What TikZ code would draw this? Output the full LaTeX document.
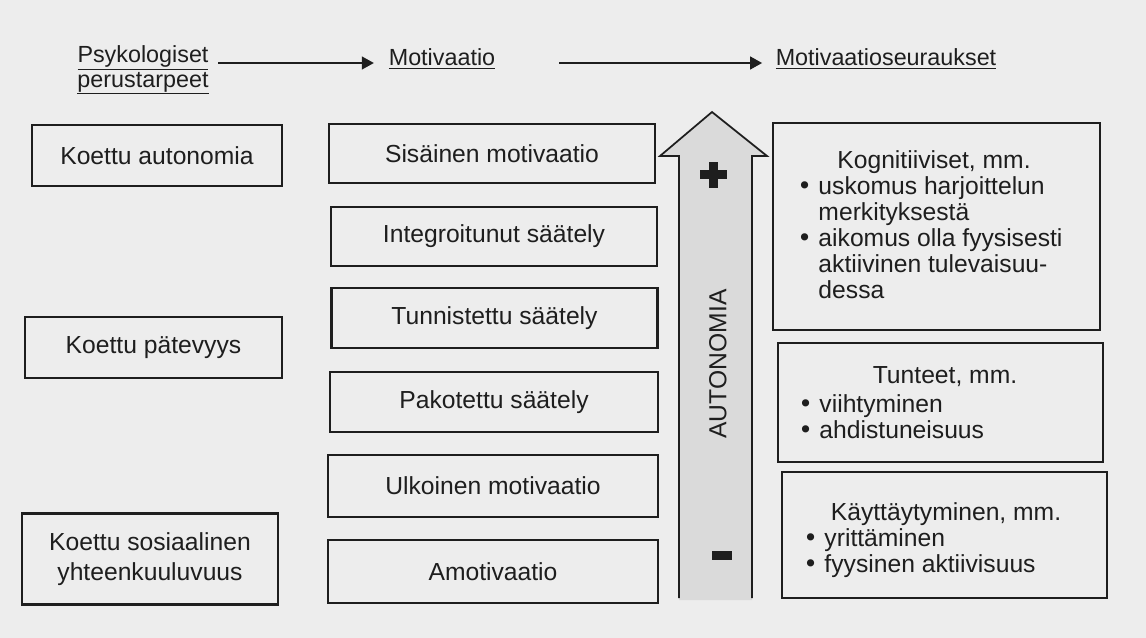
\documentclass[tikz,border=0pt]{standalone}
\usepackage{fontspec}
\setmainfont{Liberation Sans}
\newfontfamily\bulfont{DejaVu Sans}
\usetikzlibrary{arrows.meta}
\definecolor{bg}{RGB}{237,237,237}
\definecolor{ink}{RGB}{30,30,30}
\definecolor{arrowfill}{RGB}{218,218,218}
\tikzset{
  box/.style={draw=ink, line width=1.6pt, inner sep=0pt, text=ink,
    font=\fontsize{18.5}{19.5}\selectfont},
  hdr/.style={font=\fontsize{17.5}{18.5}\selectfont, text=ink, inner sep=1pt, align=center},
  flow/.style={draw=ink, line width=1.6pt, -{Triangle[length=9pt,width=9.5pt]}},
  txt/.style={font=\fontsize{18.5}{19.5}\selectfont, text=ink, inner sep=0pt},
  mark sign/.style={fill=ink}
}
\newcommand{\bul}{{\bulfont •}}
\newcommand{\blist}[1]{\begin{tabular}[t]{@{}l@{\hspace{5pt}}l@{}}#1\end{tabular}}
\begin{document}
\begin{tikzpicture}[x=0.75pt,y=-0.75pt]
\fill[bg] (0,0) rectangle (1146,638);
\useasboundingbox (0,0) rectangle (1146,638);

% headers
\node[hdr] (ps) at (143,70) {\underline{Psykologiset}\\\underline{perustarpeet}};
\node[hdr, anchor=base] (mot) at (442,66) {\underline{Motivaatio}};
\node[hdr, anchor=base] (seur) at (886,66) {\underline{Motivaatioseuraukset}};
\draw[flow, shorten <=6pt, shorten >=10pt] (ps.east |- 0,63) -- (mot.west |- 0,63);
\draw[flow, shorten <=47pt, shorten >=9pt] (mot.east |- 0,63) -- (seur.west |- 0,63);

% left column
\node[box, minimum width=187.5pt, minimum height=45.75pt] (la) at (157,155.5) {Koettu autonomia};
\node[box, minimum width=192.75pt, minimum height=45.75pt] (lb) at (153.5,347.5) {Koettu pätevyys};
\node[box, minimum width=192pt, minimum height=68.25pt, align=center] (lc) at (150,559) {Koettu sosiaalinen\\[3pt]yhteenkuuluvuus};

% middle column
\node[box, minimum width=244.5pt, minimum height=44.5pt] (m1) at (492,153.5) {Sisäinen motivaatio};
\node[box, minimum width=244.5pt, minimum height=44.5pt] (m2) at (494,236.5) {Integroitunut säätely};
\node[box, minimum width=244.5pt, minimum height=45pt] (m3) at (494.5,318) {Tunnistettu säätely};
\node[box, minimum width=246pt, minimum height=45pt] (m4) at (494,402) {Pakotettu säätely};
\node[box, minimum width=247.5pt, minimum height=46.5pt] (m5) at (493,486) {Ulkoinen motivaatio};
\node[box, minimum width=247.5pt, minimum height=47pt] (m6) at (493,571.5) {Amotivaatio};

% autonomy arrow
\fill[arrowfill] (679,600) -- (679,156) -- (660,156) -- (712,112) -- (767,156) -- (752,156) -- (752,600) -- cycle;
\draw[ink, line width=1.3pt, line join=miter] (679,598) -- (679,156) -- (660,156) -- (712,112) -- (767,156) -- (752,156) -- (752,598);
\node[txt, rotate=90] (auto) at (718,364) {AUTONOMIA};
\fill[mark sign] (713,175) +(-13.5,-4.5) rectangle +(13.5,4.5);
\fill[mark sign] (713,175) +(-4.5,-13) rectangle +(4.5,13);
\fill[mark sign] (722,555) +(-10,-4.5) rectangle +(10,4.5);

% right column
\node[box, minimum width=245.25pt, minimum height=155.25pt] (r1) at (936.5,226.5) {};
\node[box, minimum width=243.75pt, minimum height=89.25pt] (r2) at (940.5,402.5) {};
\node[box, minimum width=243.75pt, minimum height=94.5pt] (r3) at (944.5,535) {};

\node[txt, anchor=base] (r1h) at (934,169) {Kognitiiviset, mm.};
\node[txt, anchor=base west] (r1l) at (797,195) {\blist{\bul & uskomus harjoittelun\\ & merkityksestä\\ \bul & aikomus olla fyysisesti\\ & aktiivinen tulevaisuu-\\ & dessa}};

\node[txt, anchor=base] (r2h) at (945,383) {Tunteet, mm.};
\node[txt, anchor=base west] (r2l) at (798,412) {\blist{\bul & viihtyminen\\ \bul & ahdistuneisuus}};

\node[txt, anchor=base] (r3h) at (946,520) {Käyttäytyminen, mm.};
\node[txt, anchor=base west] (r3l) at (803,546) {\blist{\bul & yrittäminen\\ \bul & fyysinen aktiivisuus}};
\end{tikzpicture}
\end{document}
